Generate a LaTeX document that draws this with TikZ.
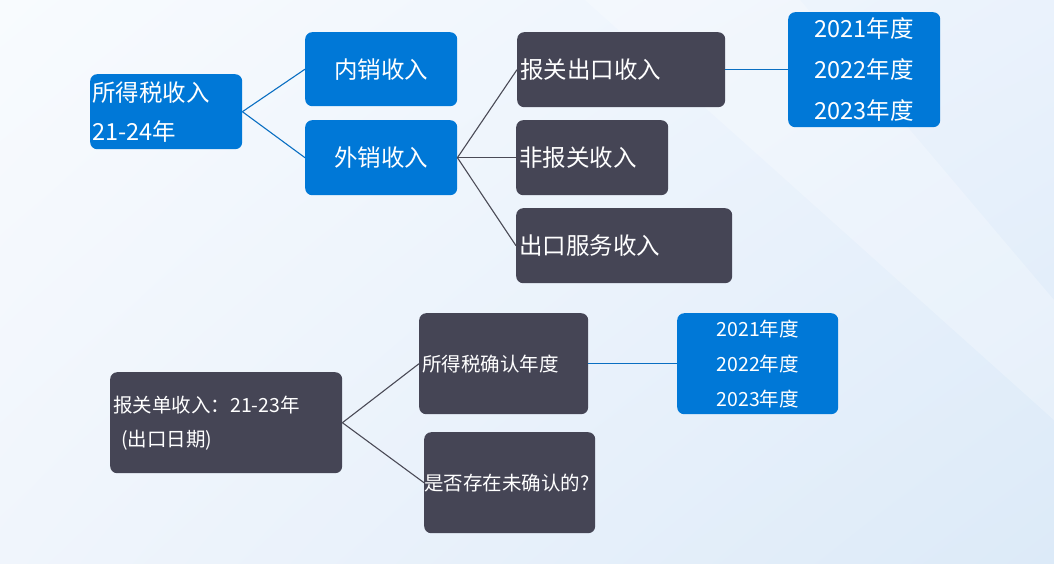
\documentclass[tikz,border=0pt]{standalone}
\usepackage{fontspec}
\setmainfont{Noto Sans CJK SC}
\usetikzlibrary{shadings}
\definecolor{boxblue}{HTML}{0078D7}
\definecolor{boxdark}{HTML}{454555}
\definecolor{lineblue}{HTML}{0A6FC2}
\definecolor{linedark}{HTML}{4A4A56}
\definecolor{bgul}{HTML}{F8FBFE}
\definecolor{bgur}{HTML}{EAF2FC}
\definecolor{bgll}{HTML}{F0F5FC}
\definecolor{bglr}{HTML}{DCEAF8}

\begin{document}
\begin{tikzpicture}[x=1pt, y=-1pt,
		bluebox/.style={fill=boxblue, text=white, rounded corners=7pt, inner xsep=2pt, inner ysep=0pt, anchor=north west},
		darkbox/.style={fill=boxdark, text=white, rounded corners=7pt, inner xsep=3pt, inner ysep=0pt, anchor=north west},
		big/.style={font=\fontsize{23.5}{39}\selectfont},
		small/.style={font=\fontsize{19.5}{34}\selectfont},
		bluelink/.style={draw=lineblue, line width=1.1pt},
		darklink/.style={draw=linedark, line width=1.1pt}]
		% background
		\useasboundingbox (0,0) rectangle (1054,563);
		\shade[upper left=bgul, upper right=bgur, lower left=bgll, lower right=bglr] (0,0) rectangle (1054,563);
		\fill[white, opacity=0.25] (585,0) -- (800,0) -- (1054,300) -- (1054,420) -- cycle;
		% upper tree
		\node[bluebox, big, minimum width=152pt, minimum height=75pt, text width=148pt, align=left] (sds) at (90,74) {所得税收入\\21-24年};
		\node[bluebox, big, minimum width=152pt, minimum height=74pt] (nx) at (305,32) {内销收入};
		\node[bluebox, big, minimum width=152pt, minimum height=75pt] (wx) at (305,120) {外销收入};
		\node[darkbox, big, minimum height=75pt, text width=202pt, align=left] (bgck) at (517,32) {报关出口收入};
		\node[darkbox, big, minimum height=75pt, text width=146pt, align=left] (fbg) at (516,120) {非报关收入};
		\node[darkbox, big, minimum height=75pt, text width=210pt, align=left] (ckfw) at (516,208) {出口服务收入};
		\node[bluebox, font=\fontsize{23.5}{41}\selectfont, minimum height=115pt, text width=148pt, align=center] (nd1) at (788,12) {2021年度\\2022年度\\2023年度};
		\draw[bluelink] (sds.east) -- (nx.west);
		\draw[bluelink] (sds.east) -- (wx.west);
		\draw[darklink] (wx.east) -- (bgck.west);
		\draw[darklink] (wx.east) -- (fbg.west);
		\draw[darklink] (wx.east) -- (ckfw.west);
		\draw[bluelink] (bgck.east) -- (nd1.west);
		% lower tree
		\node[darkbox, small, minimum height=101pt, text width=226pt, align=left] (bgd) at (110,372) {报关单收入：21-23年\\\hspace*{8pt}(出口日期)};
		\node[darkbox, small, minimum height=101pt, text width=163pt, align=left] (qr) at (419,313) {所得税确认年度};
		\node[darkbox, small, inner xsep=0pt, minimum height=101pt, text width=171pt, align=left] (wqr) at (424,432) {是否存在未确认的?};
		\node[bluebox, font=\fontsize{19.5}{35}\selectfont, minimum height=101pt, text width=157pt, align=center] (nd2) at (677,313) {2021年度\\2022年度\\2023年度};
		\draw[darklink] (bgd.east) -- (qr.west);
		\draw[darklink] (bgd.east) -- (wqr.west);
		\draw[bluelink] (qr.east) -- (nd2.west);
	\end{tikzpicture}
\end{document}
